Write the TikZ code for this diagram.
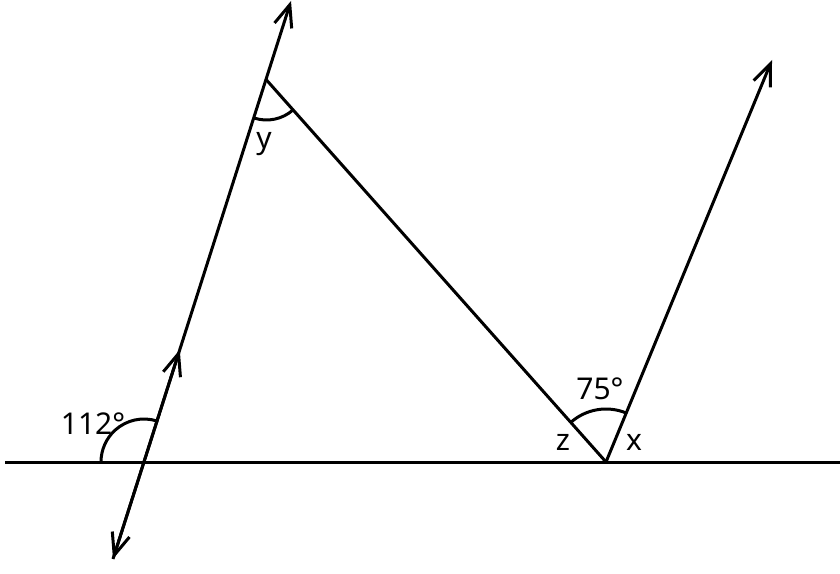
\documentclass[tikz,border=0pt]{standalone}
\usepackage{fontspec}
\setmainfont{Noto Sans}
\usepackage{tikz}
\usetikzlibrary{quotes,angles}
\usetikzlibrary{calc}
\usetikzlibrary{arrows.meta}

\begin{document}
\begin{tikzpicture}[x=1pt,y=1pt,line width=3pt,
    >={Straight Barb[length=22pt,width=18pt,line width=3pt]},
    lbl/.style={font=\fontsize{30}{30}\selectfont,anchor=base,inner sep=0pt},
    arc/.style={draw,line width=3pt}]
            \useasboundingbox (0,0) rectangle (840,573);
            \coordinate (L) at (5,111);
            \coordinate (M) at (840,111);
            \coordinate (A) at (113,14);
            \coordinate (B) at (291,572);
            \coordinate (P) at (144,111);
            \coordinate (Q) at (266.5,493);
            \coordinate (R) at (606,111);
            \coordinate (S) at (772,513);
            \coordinate (K) at ($(A)!0.375!(B)$);
            \draw (L) --(M);
            \draw[<->] (A) --(B);
            \draw[->] (A) --(K);
            \draw (Q) --(R);
            \draw[->] (R) --(S);
            \pic[arc,angle radius=43pt] {angle = B--P--L};
            \pic[arc,angle radius=40pt] {angle = P--Q--R};
            \pic[arc,angle radius=53pt] {angle = S--R--Q};
            \node[lbl] (a112) at (93,139) {112°};
            \node[lbl] (ay) at (264,424) {y};
            \node[lbl] (a75) at (600,173) {75°};
            \node[lbl] (az) at (563,123) {z};
            \node[lbl] (ax) at (634,123) {x};
        \end{tikzpicture}
\end{document}
